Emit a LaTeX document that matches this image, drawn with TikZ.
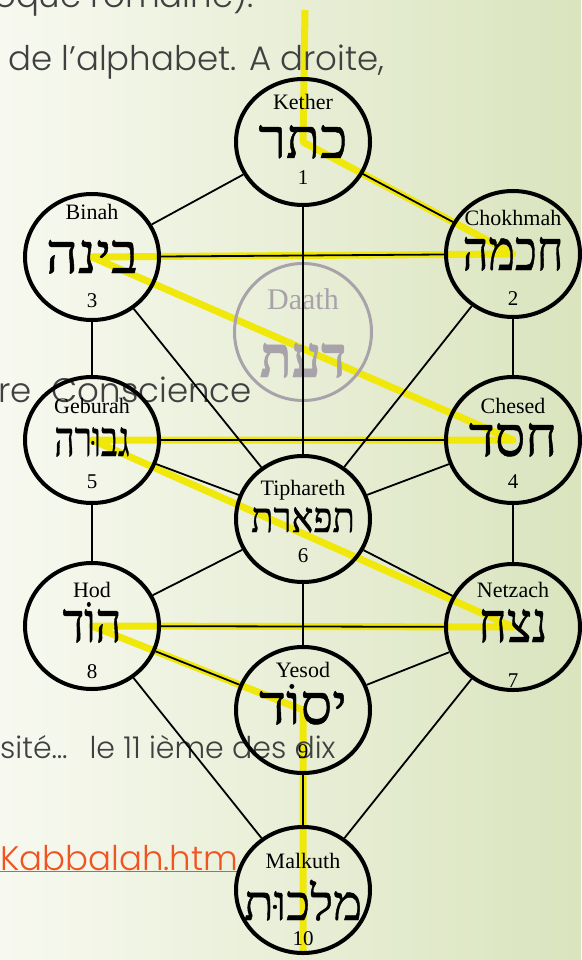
\documentclass[tikz,border=0pt]{standalone}
\usepackage{fontspec}
\usepackage{graphicx}
\setmainfont{Liberation Serif}
\newfontfamily\hebfont[Script=Hebrew, FakeBold=0.8]{Liberation Serif}
\newfontfamily\slidefont{Poppins Light}
\TeXXeTstate=1
\usetikzlibrary{shapes.geometric}

\definecolor{flash}{RGB}{240,232,10}
\definecolor{slidegray}{RGB}{64,64,64}
\definecolor{daathgray}{RGB}{168,162,170}
\definecolor{linkred}{RGB}{240,84,32}
\definecolor{bgleft}{RGB}{247,249,240}
\definecolor{bgright}{RGB}{218,228,190}

\pgfdeclarelayer{bg}
\pgfdeclarelayer{flashlayer}
\pgfsetlayers{bg,flashlayer,main}

\begin{document}
\begin{tikzpicture}[x=1pt, y=-1pt,
    sephira/.style={ellipse, draw, line width=4pt, minimum width=134pt, minimum height=126pt, inner sep=0pt},
    daath/.style={sephira, draw=daathgray, line width=3pt, minimum width=137pt, minimum height=137pt},
    heb/.style={anchor=base, inner sep=0pt, font=\hebfont\fontsize{56}{56}\selectfont},
    sname/.style={anchor=base, inner sep=0pt, font=\fontsize{22}{22}\selectfont},
    snum/.style={anchor=base, inner sep=0pt, font=\fontsize{21}{21}\selectfont},
    path/.style={line width=1.8pt},
    slidetext/.style={anchor=base west, inner sep=0pt, text=slidegray, font=\slidefont\fontsize{34}{34}\selectfont}]
    \useasboundingbox (0,0) rectangle (581,960);
    \begin{pgfonlayer}{bg}
        \shade[left color=bgleft, right color=bgright] (0,0) rectangle (581,960);
    \end{pgfonlayer}

    % slide text behind the picture
    \node[slidetext] (romaine) at (-6,8) {oque romaine).};
    \node[slidetext] (alphabet) at (8,71) {de l’alphabet. A droite,};
    \node[slidetext] (conscience) at (-2,402) {re\hspace{20pt}Conscience};
    \node[slidetext, font=\slidefont\fontsize{30}{30}\selectfont] (dix) at (0,758) {sité…\hspace{22pt}le 11 ième des dix};
    \node[slidetext, text=linkred] (link) at (0,870) {\underline{Kabbalah.htm}};

    % the sephiroth
    \node[sephira] (kether) at (303,142) {};
    \node[sname] (kether-l) at (303,110) {Kether};
    \node[heb] (kether-h) at (303,158) {\beginR כתר\endR};
    \node[snum] (kether-n) at (303,184) {1};

    \node[sephira] (chokhmah) at (513,254) {};
    \node[sname] (chokhmah-l) at (513,225) {Chokhmah};
    \node[heb] (chokhmah-h) at (513,270) {\scalebox{0.8}[1]{\beginR חכמה\endR}};
    \node[snum] (chokhmah-n) at (513,305) {2};

    \node[sephira] (binah) at (92,257) {};
    \node[sname] (binah-l) at (92,219) {Binah};
    \node[heb] (binah-h) at (92,273) {\beginR בינה\endR};
    \node[snum] (binah-n) at (92,307) {3};

    \node[daath] (daath) at (303,332) {};
    \node[sname, text=daathgray, font=\fontsize{30}{30}\selectfont] (daath-l) at (303,309) {Daath};
    \node[heb, text=daathgray, font=\hebfont\bfseries\fontsize{58}{58}\selectfont] (daath-h) at (303,377) {\scalebox{0.9}[1]{\beginR דעת\endR}};

    \node[sephira] (chesed) at (513,440) {};
    \node[sname] (chesed-l) at (513,413) {Chesed};
    \node[heb] (chesed-h) at (513,456) {\scalebox{0.96}[1]{\beginR חסד\endR}};
    \node[snum] (chesed-n) at (513,488) {4};

    \node[sephira] (geburah) at (92,440) {};
    \node[sname] (geburah-l) at (92,413) {Geburah};
    \node[heb, font=\hebfont\fontsize{49}{49}\selectfont] (geburah-h) at (92,456) {\scalebox{0.72}[1]{\beginR גבוּרה\endR}};
    \node[snum] (geburah-n) at (92,488) {5};

    \node[sephira] (tiphareth) at (303,519) {};
    \node[sname] (tiphareth-l) at (303,495) {Tiphareth};
    \node[heb, font=\hebfont\fontsize{42}{42}\selectfont] (tiphareth-h) at (303,532) {\scalebox{0.87}[1]{\beginR תפארת\endR}};
    \node[snum] (tiphareth-n) at (303,562) {6};

    \node[sephira] (netzach) at (513,627) {};
    \node[sname] (netzach-l) at (513,597) {Netzach};
    \node[heb] (netzach-h) at (513,642) {\scalebox{0.85}[1]{\beginR נצח\endR}};
    \node[snum] (netzach-n) at (513,687) {7};

    \node[sephira] (hod) at (92,626) {};
    \node[sname] (hod-l) at (92,597) {Hod};
    \node[heb] (hod-h) at (92,642) {\scalebox{0.8}[1]{\beginR הוֹד\endR}};
    \node[snum] (hod-n) at (92,678) {8};

    \node[sephira] (yesod) at (303,710) {};
    \node[sname] (yesod-l) at (303,677) {Yesod};
    \node[heb] (yesod-h) at (303,724) {\beginR יסוֹד\endR};
    \node[snum] (yesod-n) at (303,758) {9};

    \node[sephira] (malkuth) at (303,890) {};
    \node[sname] (malkuth-l) at (303,868) {Malkuth};
    \node[heb, font=\hebfont\fontsize{49}{49}\selectfont] (malkuth-h) at (303,920) {\beginR מלכוּת\endR};
    \node[snum] (malkuth-n) at (303,945) {10};

    % the paths
    \draw[path] (kether) -- (chokhmah);
    \draw[path] (kether) -- (binah);
    \draw[path] (kether) -- (tiphareth);
    \draw[path] (chokhmah) -- (binah);
    \draw[path] (chokhmah) -- (chesed);
    \draw[path] (chokhmah) -- (tiphareth);
    \draw[path] (binah) -- (geburah);
    \draw[path] (binah) -- (tiphareth);
    \draw[path] (chesed) -- (geburah);
    \draw[path] (chesed) -- (tiphareth);
    \draw[path] (chesed) -- (netzach);
    \draw[path] (geburah) -- (tiphareth);
    \draw[path] (geburah) -- (hod);
    \draw[path] (tiphareth) -- (netzach);
    \draw[path] (tiphareth) -- (hod);
    \draw[path] (tiphareth) -- (yesod);
    \draw[path] (netzach) -- (hod);
    \draw[path] (netzach) -- (yesod);
    \draw[path] (netzach) -- (malkuth);
    \draw[path] (hod) -- (yesod);
    \draw[path] (hod) -- (malkuth);
    \draw[path] (yesod) -- (malkuth);

    % lightning flash
    \coordinate (flashtop) at (305,10);
    \begin{pgfonlayer}{flashlayer}
        \draw[flash, line width=7pt, line join=round] (flashtop) -- (kether.center) -- (chokhmah.center)
            -- (binah.center) -- (chesed.center) -- (geburah.center) -- (netzach.center)
            -- (hod.center) -- (yesod.center) -- (malkuth.south);
    \end{pgfonlayer}
\end{tikzpicture}
\end{document}
